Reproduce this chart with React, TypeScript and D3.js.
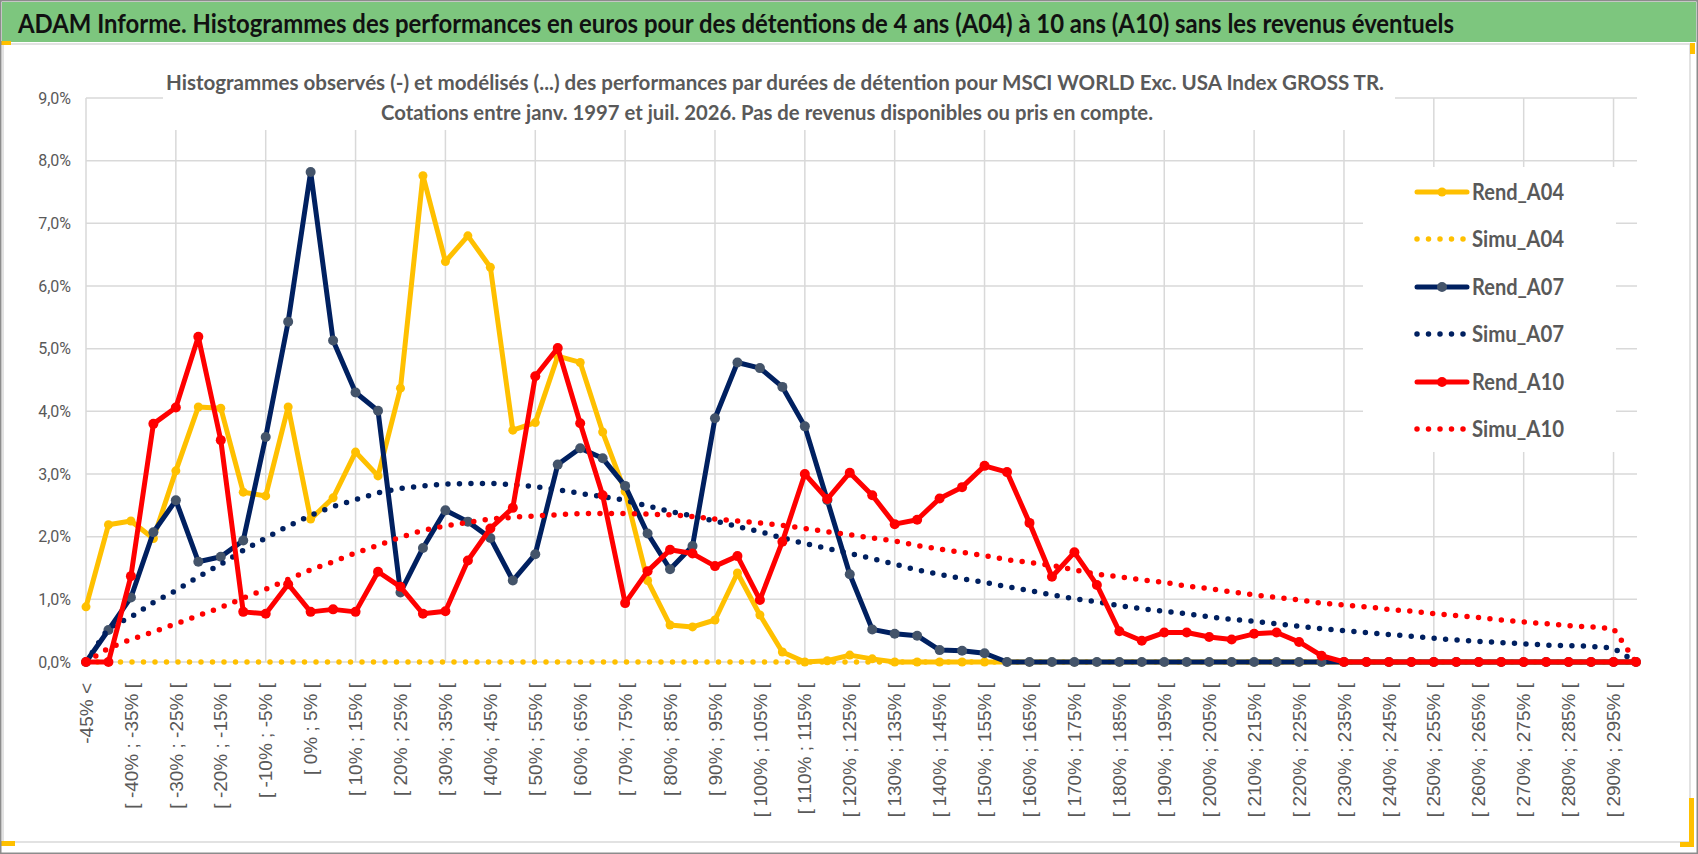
import React, { useEffect } from "react";
import * as d3 from "d3";

const W = 1698;
const H = 854;

// categories (70): first is "-45% <", then 5% bins, last "295% >"
const categories = [
    "-45% <", "[ -45% ; -40% [", "[ -40% ; -35% [", "[ -35% ; -30% [", "[ -30% ; -25% [",
    "[ -25% ; -20% [", "[ -20% ; -15% [", "[ -15% ; -10% [", "[ -10% ; -5% [", "[ -5% ; 0% [",
    "[ 0% ; 5% [", "[ 5% ; 10% [", "[ 10% ; 15% [", "[ 15% ; 20% [", "[ 20% ; 25% [",
    "[ 25% ; 30% [", "[ 30% ; 35% [", "[ 35% ; 40% [", "[ 40% ; 45% [", "[ 45% ; 50% [",
    "[ 50% ; 55% [", "[ 55% ; 60% [", "[ 60% ; 65% [", "[ 65% ; 70% [", "[ 70% ; 75% [",
    "[ 75% ; 80% [", "[ 80% ; 85% [", "[ 85% ; 90% [", "[ 90% ; 95% [", "[ 95% ; 100% [",
    "[ 100% ; 105% [", "[ 105% ; 110% [", "[ 110% ; 115% [", "[ 115% ; 120% [", "[ 120% ; 125% [",
    "[ 125% ; 130% [", "[ 130% ; 135% [", "[ 135% ; 140% [", "[ 140% ; 145% [", "[ 145% ; 150% [",
    "[ 150% ; 155% [", "[ 155% ; 160% [", "[ 160% ; 165% [", "[ 165% ; 170% [", "[ 170% ; 175% [",
    "[ 175% ; 180% [", "[ 180% ; 185% [", "[ 185% ; 190% [", "[ 190% ; 195% [", "[ 195% ; 200% [",
    "[ 200% ; 205% [", "[ 205% ; 210% [", "[ 210% ; 215% [", "[ 215% ; 220% [", "[ 220% ; 225% [",
    "[ 225% ; 230% [", "[ 230% ; 235% [", "[ 235% ; 240% [", "[ 240% ; 245% [", "[ 245% ; 250% [",
    "[ 250% ; 255% [", "[ 255% ; 260% [", "[ 260% ; 265% [", "[ 265% ; 270% [", "[ 270% ; 275% [",
    "[ 275% ; 280% [", "[ 280% ; 285% [", "[ 285% ; 290% [", "[ 290% ; 295% [", "295% >",
];

// values in %
const rendA04 = [
    0.88, 2.19, 2.25, 1.97, 3.05, 4.07, 4.05, 2.71, 2.65, 4.07,
    2.28, 2.62, 3.35, 2.97, 4.37, 7.76, 6.39, 6.80, 6.30, 3.70,
    3.82, 4.88, 4.78, 3.67, 2.72, 1.30, 0.59, 0.56, 0.67, 1.42,
    0.75, 0.16, 0.00, 0.02, 0.11, 0.05, 0, 0, 0, 0,
    0, 0, 0, 0, 0, 0, 0, 0, 0, 0,
    0, 0, 0, 0, 0, 0, 0, 0, 0, 0,
    0, 0, 0, 0, 0, 0, 0, 0, 0, 0,
];

const simuA04 = [
    0, 0, 0, 0, 0, 0, 0, 0, 0, 0,
    0, 0, 0, 0, 0, 0, 0, 0, 0, 0,
    0, 0, 0, 0, 0, 0, 0, 0, 0, 0,
    0, 0, 0, 0, 0, 0, 0, 0, 0, 0,
    0, 0, 0, 0, 0, 0, 0, 0, 0, 0,
    0, 0, 0, 0, 0, 0, 0, 0, 0, 0,
    0, 0, 0, 0, 0, 0, 0, 0, 0, 0,
];

const rendA07 = [
    0, 0.51, 1.03, 2.07, 2.58, 1.60, 1.68, 1.94, 3.59, 5.43,
    7.82, 5.13, 4.30, 4.01, 1.11, 1.82, 2.42, 2.24, 1.98, 1.30,
    1.72, 3.15, 3.41, 3.25, 2.81, 2.05, 1.48, 1.85, 3.89, 4.78,
    4.69, 4.39, 3.76, 2.58, 1.40, 0.52, 0.45, 0.42, 0.19, 0.18,
    0.14, 0, 0, 0, 0, 0, 0, 0, 0, 0,
    0, 0, 0, 0, 0, 0, 0, 0, 0, 0,
    0, 0, 0, 0, 0, 0, 0, 0, 0, 0,
];

const simuA07 = [
    0, 0.54, 0.72, 0.95, 1.14, 1.36, 1.56, 1.78, 1.98, 2.17,
    2.34, 2.48, 2.59, 2.70, 2.77, 2.81, 2.84, 2.85, 2.85, 2.83,
    2.80, 2.75, 2.69, 2.64, 2.58, 2.49, 2.40, 2.33, 2.25, 2.16,
    2.08, 1.98, 1.89, 1.81, 1.73, 1.65, 1.56, 1.47, 1.40, 1.33,
    1.27, 1.20, 1.14, 1.07, 1.01, 0.96, 0.90, 0.85, 0.81, 0.77,
    0.72, 0.68, 0.65, 0.61, 0.57, 0.53, 0.50, 0.47, 0.44, 0.41,
    0.38, 0.35, 0.33, 0.31, 0.29, 0.27, 0.26, 0.25, 0.22, 0,
];

const rendA10 = [
    0, 0, 1.37, 3.80, 4.06, 5.19, 3.54, 0.80, 0.77, 1.24,
    0.80, 0.84, 0.80, 1.44, 1.20, 0.77, 0.81, 1.62, 2.13, 2.46,
    4.56, 5.01, 3.81, 2.66, 0.94, 1.45, 1.79, 1.73, 1.53, 1.69,
    0.99, 1.92, 3.00, 2.60, 3.02, 2.66, 2.20, 2.27, 2.61, 2.79,
    3.13, 3.03, 2.22, 1.36, 1.75, 1.23, 0.49, 0.34, 0.47, 0.47,
    0.40, 0.36, 0.45, 0.47, 0.32, 0.10, 0, 0, 0, 0,
    0, 0, 0, 0, 0, 0, 0, 0, 0, 0,
];

const simuA10 = [
    0, 0.22, 0.36, 0.48, 0.61, 0.74, 0.87, 1.02, 1.16, 1.32,
    1.47, 1.60, 1.74, 1.86, 1.99, 2.10, 2.17, 2.23, 2.28, 2.31,
    2.33, 2.35, 2.37, 2.37, 2.37, 2.36, 2.35, 2.32, 2.28, 2.25,
    2.22, 2.18, 2.13, 2.08, 2.03, 1.98, 1.93, 1.86, 1.80, 1.75,
    1.70, 1.63, 1.59, 1.54, 1.47, 1.40, 1.36, 1.31, 1.27, 1.21,
    1.17, 1.12, 1.07, 1.03, 0.99, 0.94, 0.91, 0.88, 0.84, 0.81,
    0.77, 0.74, 0.71, 0.67, 0.64, 0.61, 0.58, 0.56, 0.53, 0,
];

const yTicks = [0, 1, 2, 3, 4, 5, 6, 7, 8, 9];
const yTickLabels = ["0,0%", "1,0%", "2,0%", "3,0%", "4,0%", "5,0%", "6,0%", "7,0%", "8,0%", "9,0%"];

const titleText = "ADAM Informe. Histogrammes des performances en euros pour des détentions de 4 ans (A04) à 10 ans (A10) sans les revenus éventuels";
const subtitleLines = [
    "Histogrammes observés (-) et modélisés (...) des performances par durées de détention pour MSCI WORLD Exc. USA Index GROSS TR.",
    "Cotations entre janv. 1997 et juil. 2026. Pas de revenus disponibles ou pris en compte.",
];

type Series = {
    name: string;
    values: number[];
    color: string;
    dotted: boolean;
    markerColor?: string;
    markerR?: number;
};

const YELLOW = "#FFC000";
const NAVY = "#002060";
const RED = "#FF0000";

const series: Series[] = [
    { name: "Rend_A04", values: rendA04, color: YELLOW, dotted: false, markerColor: YELLOW, markerR: 4.5 },
    { name: "Simu_A04", values: simuA04, color: YELLOW, dotted: true },
    { name: "Rend_A07", values: rendA07, color: NAVY, dotted: false, markerColor: "#44546A", markerR: 5 },
    { name: "Simu_A07", values: simuA07, color: NAVY, dotted: true },
    { name: "Rend_A10", values: rendA10, color: RED, dotted: false, markerColor: RED, markerR: 5 },
    { name: "Simu_A10", values: simuA10, color: RED, dotted: true },
];

const TEXT_GREY = "#595959";
const GRID = "#D9D9D9";
const CALIBRI = "Lato, 'Open Sans', sans-serif";
const DOT_W = 5.5;
const DOT_DASH = "0 11.5";

export default function App() {
    useEffect(() => {
        document.body.style.margin = "0";
    }, []);

    const x = d3.scalePoint<number>()
        .domain(d3.range(categories.length))
        .range([86, 1636]);
    const y = d3.scaleLinear()
        .domain([0, 9])
        .range([662, 98]);

    const line = d3.line<number>()
        .x((d, i) => x(i) ?? 0)
        .y(d => y(d));

    const plotLeft = 86;
    const plotRight = 1637;

    const legendX = 1417;
    const legendRows = [192, 239, 287, 334, 382, 429];

    return (
        <svg width={W} height={H} style={{ position: "absolute", left: 0, top: 0, display: "block" }}>
            <rect x={0} y={0} width={W} height={H} fill="#ffffff" />

            {/* title bar */}
            <rect x={2} y={2} width={W - 4} height={40} fill="#7DC67E" />
            <text x={18} y={33} fontFamily={CALIBRI} fontWeight="bold" fontSize={26} fill="#111111"
                textLength={1436} lengthAdjust="spacingAndGlyphs">{titleText}</text>

            {/* chart area border */}
            <rect x={3} y={44} width={1687} height={798} fill="none" stroke={GRID} strokeWidth={1.5} />

            {/* gridlines */}
            <g>
                {yTicks.map(t => (
                    <line key={"h" + t} x1={plotLeft} x2={plotRight} y1={y(t)} y2={y(t)} stroke={GRID} strokeWidth={1.5} />
                ))}
                {d3.range(0, categories.length, 4).map(i => (
                    <line key={"v" + i} x1={x(i)} x2={x(i)} y1={y(9)} y2={y(0)} stroke={GRID} strokeWidth={1.5} />
                ))}
            </g>

            {/* subtitle and legend backgrounds */}
            <rect x={163} y={50} width={1232} height={80} fill="#ffffff" />
            <rect x={1363} y={167} width={253} height={285} fill="#ffffff" />

            {/* subtitle */}
            <text x={166} y={90} fontFamily={CALIBRI} fontWeight="bold" fontSize={21} fill={TEXT_GREY}
                textLength={1218} lengthAdjust="spacingAndGlyphs">{subtitleLines[0]}</text>
            <text x={381} y={120} fontFamily={CALIBRI} fontWeight="bold" fontSize={21} fill={TEXT_GREY}
                textLength={772} lengthAdjust="spacingAndGlyphs">{subtitleLines[1]}</text>

            {/* y axis labels */}
            {yTicks.map((t, i) => (
                <text key={"yl" + t} x={71} y={y(t)} dy="0.35em" textAnchor="end"
                    fontFamily="Roboto, sans-serif" fontSize={16} fill={TEXT_GREY}>{yTickLabels[i]}</text>
            ))}

            {/* x axis labels, every other category */}
            {categories.map((c, i) => i % 2 === 0 ? (
                <text key={"xl" + i} transform={`translate(${x(i)},683) rotate(-90)`} dy="0.35em" textAnchor="end"
                    fontFamily="'Liberation Sans', Arial, sans-serif" fontSize={19} fill={TEXT_GREY}>{c}</text>
            ) : null)}

            {/* series */}
            {series.map(s => (
                <g key={s.name}>
                    <path d={line(s.values) ?? ""} fill="none" stroke={s.color}
                        strokeWidth={s.dotted ? DOT_W : 5}
                        strokeLinejoin="round"
                        strokeLinecap="round"
                        strokeDasharray={s.dotted ? DOT_DASH : undefined} />
                    {!s.dotted && s.values.map((v, i) => (
                        <circle key={i} cx={x(i)} cy={y(v)} r={s.markerR} fill={s.markerColor} />
                    ))}
                </g>
            ))}

            {/* legend */}
            {series.map((s, k) => (
                <g key={"lg" + s.name}>
                    <line x1={legendX} x2={legendX + 50} y1={legendRows[k]} y2={legendRows[k]}
                        stroke={s.color} strokeWidth={s.dotted ? DOT_W : 5} strokeLinecap="round"
                        strokeDasharray={s.dotted ? DOT_DASH : undefined} />
                    {!s.dotted && (
                        <circle cx={legendX + 25} cy={legendRows[k]} r={s.markerR} fill={s.markerColor} />
                    )}
                    <text x={1472} y={legendRows[k] + 8} fontFamily={CALIBRI} fontWeight="bold" fontSize={23}
                        fill={TEXT_GREY} textLength={92} lengthAdjust="spacingAndGlyphs">{s.name}</text>
                </g>
            ))}

            {/* selection handles */}
            <rect x={0} y={41} width={11} height={4} fill={YELLOW} />
            <rect x={1690} y={43} width={5} height={11} fill={YELLOW} />
            <rect x={0} y={841} width={15} height={5} fill={YELLOW} />
            <rect x={1689} y={798} width={5} height={48} fill={YELLOW} />
            <rect x={1680} y={842} width={14} height={5} fill={YELLOW} />

            {/* outer frame */}
            <rect x={0.75} y={0.75} width={W - 1.5} height={H - 1.5} fill="none" stroke="#8C8C8C" strokeWidth={1.5} />
        </svg>
    );
}
